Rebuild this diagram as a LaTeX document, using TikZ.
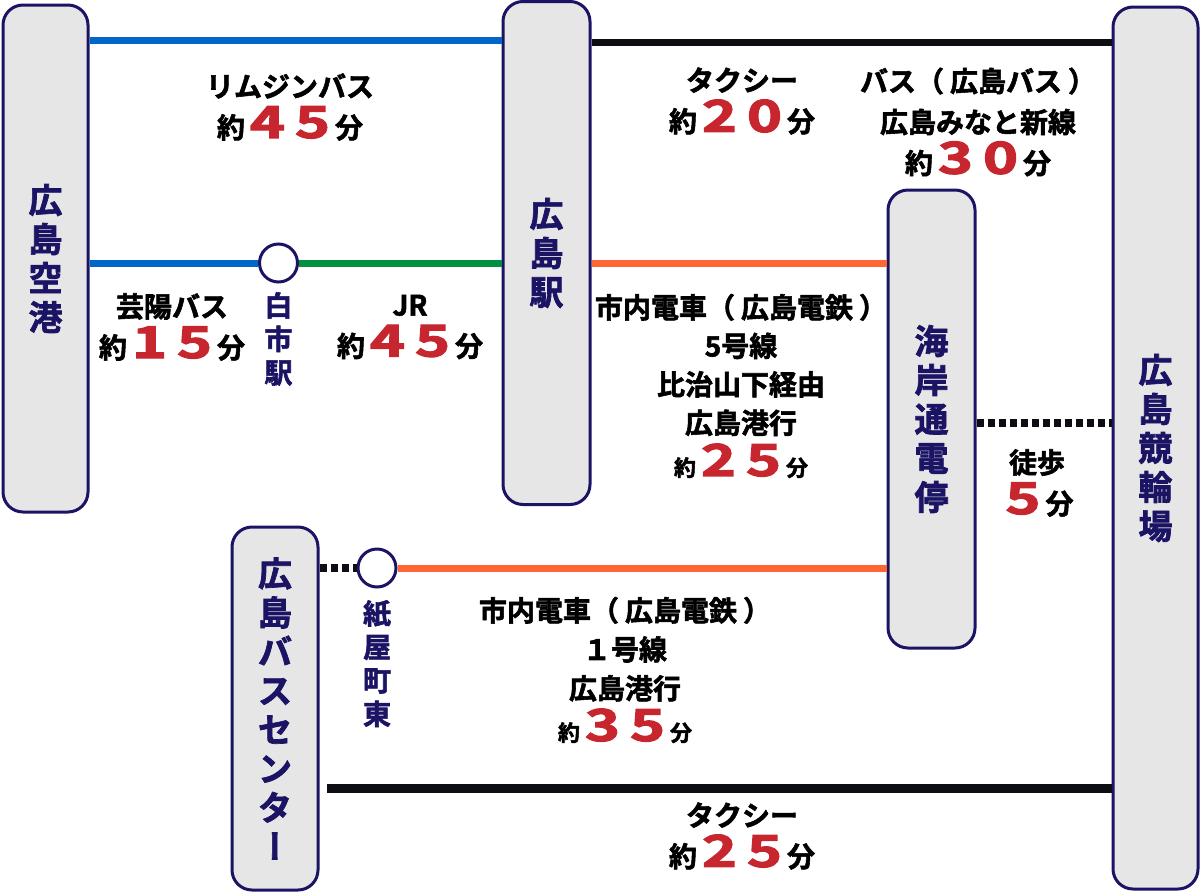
\documentclass[tikz,border=0pt]{standalone}
\usepackage{fontspec}
\setmainfont{Noto Sans CJK JP}
\newfontfamily\jpb{Noto Sans CJK JP Bold}[FakeBold=2]
\newfontfamily\jpbv{Noto Sans CJK JP Bold}[FakeBold=2,RawFeature=+vert]
\newfontfamily\numfont{Noto Sans CJK JP Bold}[FakeBold=2.5]
\definecolor{navy}{HTML}{1B1464}
\definecolor{boxfill}{HTML}{E6E6E6}
\definecolor{numred}{HTML}{C8262E}
\definecolor{lblue}{HTML}{0066CC}
\definecolor{lgreen}{HTML}{009040}
\definecolor{lorange}{HTML}{FF6633}
\definecolor{lblack}{HTML}{0D0D14}
\newcommand\rn[1]{\hspace{5pt}{\color{numred}\numfont\fontsize{44}{40}\selectfont\scalebox{1.35}[1]{#1}}\hspace{5pt}}
\newcommand\sm[1]{{\fontsize{22}{22}\selectfont #1}}
\newcommand\lp{（\hspace{6pt}}
\newcommand\rp{\hspace{6pt}）}
\begin{document}
\begin{tikzpicture}[x=1pt,y=-1pt,
  stationbox/.style={draw=navy,line width=3pt,fill=boxfill,rounded corners=20pt,
    inner sep=0pt,text=navy,font=\jpb\fontsize{34}{39}\selectfont,align=center},
  stopcircle/.style={circle,draw=navy,line width=3pt,fill=white,minimum size=38pt,inner sep=0pt},
  stoplabel/.style={text=navy,font=\jpb\fontsize{28}{33.5}\selectfont,align=center,inner sep=0pt},
  lbl/.style={font=\jpb\fontsize{28}{41}\selectfont,align=center,inner sep=0pt},
  route/.style={line width=7pt},
  walk/.style={line width=8pt,lblack,dash pattern=on 7pt off 4pt}]
\useasboundingbox (0,0) rectangle (1200,892);
% station boxes
\node[stationbox,minimum width=85pt,minimum height=507pt] (air) at (45.5,258.5) {広\\島\\空\\港};
\node[stationbox,minimum width=87pt,minimum height=503pt] (eki) at (546.5,253) {広\\島\\駅};
\node[stationbox,minimum width=87pt,minimum height=458pt] (kai) at (931.5,419) {海\\岸\\通\\電\\停};
\node[stationbox,minimum width=85pt,minimum height=882pt] (keirin) at (1155.5,448) {広\\島\\競\\輪\\場};
\node[stationbox,minimum width=86pt,minimum height=363pt] (bc) at (275,708.5) {広\\島\\バ\\ス\\セ\\ン\\タ\\{\jpbv ー}};
% intermediate stops
\node[stopcircle] (shira) at (278.5,263) {};
\node[stopcircle] (kami) at (377,568) {};
\node[stoplabel,anchor=north] (shiralbl) at (278.5,292) {白\\市\\駅};
\node[stoplabel,anchor=north] (kamilbl) at (377,600) {紙\\屋\\町\\東};
% connectors
\draw[route,lblue] (air.east |- 0,40) -- (eki.west |- 0,40);
\draw[route,lblack] (eki.east |- 0,42.5) -- (keirin.west |- 0,42.5);
\draw[route,lblue] (air.east |- shira.west) -- (shira.west);
\draw[route,lgreen] (shira.east) -- (eki.west |- shira.east);
\draw[route,lorange] (eki.east |- 0,263) -- (kai.west |- 0,263);
\draw[walk] (kai.east |- 0,423) -- (keirin.west |- 0,423);
\draw[walk] (bc.east |- kami.west) -- (kami.west);
\draw[route,lorange] (kami.east) -- (kai.west |- kami.east);
\draw[route,line width=9pt,lblack] (bc.east |- 0,788) ++(7,0) coordinate (bcr) -- (keirin.west |- bcr);
% labels
\node[lbl] (t1) at (290,107) {リムジンバス\\約\rn{4}\rn{5}分};
\node[lbl] (t2) at (742,101) {タクシー\\約\rn{2}\rn{0}分};
\node[lbl] (t3) at (978,122) {バス\lp 広島バス\rp\\広島みなと新線\\約\rn{3}\rn{0}分};
\node[lbl] (t4) at (172,327) {芸陽バス\\約\rn{1}\rn{5}分};
\node[lbl] (t5) at (410,327) {JR\\約\rn{4}\rn{5}分};
\node[lbl,font=\jpb\fontsize{28}{38.5}\selectfont] (t6) at (741,386) {市内電車\lp 広島電鉄\rp\\5号線\\比治山下経由\\広島港行\\[4pt]\sm{約}\rn{2}\rn{5}\sm{分}};
\node[lbl] (t7) at (1037,483) {徒歩\\\rn{5}分};
\node[lbl,font=\jpb\fontsize{28}{39}\selectfont] (t8) at (625,670) {市内電車\lp 広島電鉄\rp\\１号線\\広島港行\\[3pt]\sm{約}\rn{3}\rn{5}\sm{分}};
\node[lbl] (t9) at (742,836) {タクシー\\約\rn{2}\rn{5}分};
\end{tikzpicture}
\end{document}
